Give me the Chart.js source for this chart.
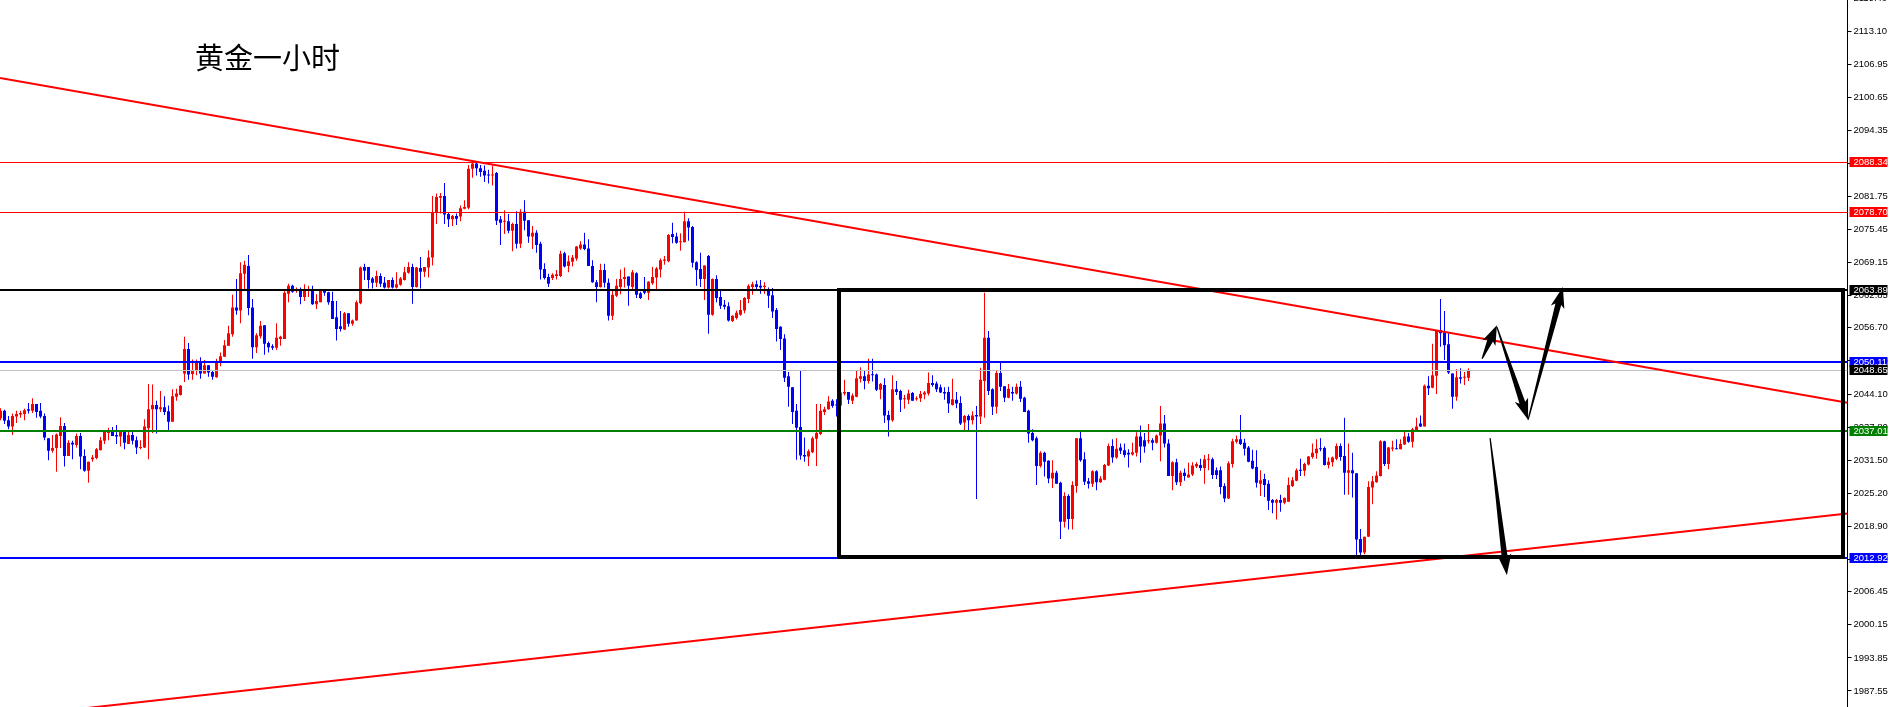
<!DOCTYPE html>
<html>
<head>
<meta charset="utf-8">
<script src="https://cdn.jsdelivr.net/npm/chart.js@4.4.1/dist/chart.umd.min.js"></script>
<style>
  html, body { margin: 0; padding: 0; background: #fff; overflow: hidden; }
  canvas { display: block; }
</style>
</head>
<body>
<canvas id="goldChart" width="1891" height="707"></canvas>
<script>
// 黄金 H1 candles (oldest -> newest)
const opens = [
  2039.5, 2040.9, 2039.1, 2037.9, 2039.8, 2040.2, 2040.3, 2041.2, 2040.9, 2042.2,
  2040.9, 2039.9, 2035.7, 2033.3, 2033.8, 2036.1, 2038.0, 2032.3, 2034.8, 2034.4,
  2036.1, 2032.3, 2029.5, 2031.7, 2031.9, 2033.4, 2035.2, 2036.7, 2037.0, 2036.3,
  2036.0, 2036.9, 2034.6, 2036.3, 2035.3, 2033.8, 2033.9, 2037.6, 2041.2, 2042.0,
  2041.2, 2041.6, 2040.8, 2038.8, 2043.6, 2043.9, 2048.0, 2052.7, 2047.9, 2048.5,
  2050.3, 2048.0, 2049.6, 2048.3, 2047.3, 2050.1, 2051.2, 2053.3, 2055.5, 2060.6,
  2060.0, 2067.0, 2068.5, 2060.6, 2053.0, 2055.1, 2057.2, 2053.8, 2053.2, 2052.9,
  2054.6, 2054.6, 2063.2, 2064.7, 2063.7, 2064.0, 2062.6, 2063.7, 2064.0, 2061.2,
  2061.6, 2063.8, 2063.5, 2061.8, 2058.7, 2057.0, 2056.4, 2059.5, 2057.5, 2058.1,
  2061.4, 2068.3, 2068.3, 2066.1, 2065.3, 2066.6, 2065.3, 2064.4, 2065.8, 2064.4,
  2064.9, 2065.8, 2067.2, 2068.3, 2064.5, 2068.1, 2067.4, 2068.2, 2070.1, 2078.6,
  2081.5, 2081.8, 2078.4, 2077.4, 2078.0, 2077.9, 2079.4, 2079.6, 2087.0, 2088.0,
  2087.1, 2086.6, 2085.9, 2085.7, 2086.2, 2077.4, 2076.9, 2077.0, 2075.2, 2076.5,
  2072.7, 2078.8, 2077.2, 2074.1, 2074.8, 2072.7, 2067.9, 2066.4, 2066.2, 2066.6,
  2066.6, 2070.9, 2068.5, 2069.3, 2069.9, 2071.8, 2072.6, 2071.8, 2068.5, 2065.4,
  2064.5, 2067.7, 2065.3, 2059.0, 2062.8, 2064.5, 2066.0, 2066.5, 2064.5, 2067.1,
  2063.3, 2064.0, 2063.4, 2065.2, 2066.3, 2067.8, 2069.5, 2069.4, 2074.6, 2074.1,
  2073.0, 2073.0, 2077.0, 2075.9, 2069.2, 2067.9, 2066.0, 2070.4, 2059.2, 2066.0,
  2062.6, 2061.1, 2060.8, 2058.0, 2058.6, 2059.2, 2060.0, 2062.2, 2064.5, 2065.0,
  2064.7, 2064.5, 2064.0, 2062.9, 2060.1, 2056.9, 2054.7, 2047.5, 2045.4, 2040.9,
  2037.8, 2032.5, 2032.2, 2033.0, 2035.6, 2036.5, 2040.7, 2041.2, 2042.8, 2042.0,
  2041.9, 2044.2, 2044.5, 2042.8, 2043.6, 2047.0, 2047.5, 2046.6, 2047.8, 2047.8,
  2044.9, 2045.8, 2040.1, 2039.1, 2045.0, 2044.7, 2043.1, 2043.0, 2044.3, 2043.1,
  2043.3, 2044.0, 2044.2, 2046.2, 2046.1, 2045.4, 2044.5, 2044.5, 2042.0, 2043.0,
  2042.4, 2038.7, 2039.9, 2039.1, 2040.1, 2039.8, 2046.6, 2054.8, 2045.0, 2041.7,
  2048.1, 2045.6, 2043.4, 2044.5, 2044.2, 2045.5, 2043.4, 2040.9, 2036.7, 2035.7,
  2030.4, 2032.9, 2031.4, 2028.0, 2029.1, 2027.2, 2019.8, 2024.7, 2020.3, 2026.6,
  2035.7, 2031.7, 2027.5, 2027.0, 2029.4, 2027.3, 2027.8, 2030.5, 2034.2, 2032.0,
  2033.9, 2033.4, 2032.9, 2032.6, 2032.9, 2036.0, 2035.3, 2035.1, 2035.3, 2034.8,
  2036.2, 2038.5, 2034.7, 2028.5, 2031.1, 2027.3, 2029.1, 2028.2, 2028.8, 2030.3,
  2030.6, 2030.0, 2031.6, 2031.7, 2029.6, 2029.6, 2026.6, 2024.2, 2030.8, 2035.0,
  2035.5, 2034.8, 2033.9, 2031.4, 2030.2, 2027.0, 2027.9, 2027.0, 2023.9, 2023.4,
  2023.9, 2023.4, 2023.6, 2026.6, 2027.6, 2029.6, 2029.5, 2030.7, 2032.1, 2032.8,
  2033.7, 2033.8, 2030.6, 2031.1, 2031.8, 2034.2, 2032.3, 2029.1, 2029.6, 2029.0,
  2016.5, 2013.9, 2016.9, 2026.3, 2027.3, 2028.5, 2035.1, 2030.8, 2033.7, 2033.7,
  2033.6, 2034.5, 2036.0, 2035.0, 2037.2, 2038.5, 2037.9, 2045.7, 2045.3, 2047.6,
  2056.3, 2055.8, 2053.6, 2048.0, 2043.6, 2047.3, 2047.2, 2047.2
];
const highs = [
  2041.4, 2041.1, 2039.9, 2040.4, 2040.9, 2040.9, 2041.3, 2042.4, 2043.3, 2042.2,
  2042.4, 2040.4, 2035.7, 2036.3, 2036.6, 2039.7, 2038.6, 2035.3, 2035.2, 2036.6,
  2036.7, 2033.6, 2031.2, 2032.5, 2033.8, 2035.9, 2037.2, 2037.7, 2037.8, 2038.2,
  2037.1, 2037.2, 2036.9, 2037.1, 2036.0, 2035.3, 2039.3, 2046.0, 2045.9, 2042.8,
  2044.7, 2043.7, 2041.9, 2045.0, 2045.1, 2045.8, 2055.0, 2053.8, 2050.7, 2050.7,
  2051.1, 2050.6, 2049.6, 2048.7, 2050.8, 2052.0, 2054.4, 2057.1, 2063.0, 2066.0,
  2069.2, 2069.5, 2070.6, 2062.2, 2055.7, 2058.0, 2057.2, 2054.1, 2053.6, 2057.6,
  2055.2, 2063.8, 2065.1, 2064.9, 2064.4, 2064.4, 2065.0, 2064.7, 2064.7, 2063.1,
  2063.9, 2063.9, 2063.6, 2063.6, 2061.8, 2059.9, 2059.7, 2059.5, 2058.3, 2061.9,
  2068.4, 2068.9, 2068.3, 2066.4, 2067.6, 2067.1, 2066.4, 2065.8, 2066.3, 2067.3,
  2066.4, 2068.3, 2069.2, 2068.9, 2068.3, 2070.2, 2068.3, 2071.5, 2081.8, 2082.3,
  2082.4, 2084.3, 2078.7, 2078.2, 2078.5, 2080.0, 2081.0, 2087.7, 2088.2, 2088.5,
  2087.7, 2087.6, 2086.8, 2087.6, 2086.4, 2078.0, 2079.1, 2078.4, 2076.7, 2078.9,
  2079.3, 2081.0, 2077.2, 2076.1, 2075.3, 2073.1, 2069.0, 2067.0, 2067.1, 2067.7,
  2071.4, 2071.2, 2070.5, 2070.6, 2072.3, 2073.2, 2074.8, 2073.6, 2069.6, 2065.8,
  2068.9, 2068.9, 2066.1, 2063.9, 2066.0, 2067.8, 2068.2, 2066.5, 2067.7, 2067.3,
  2063.6, 2066.4, 2065.6, 2068.3, 2068.3, 2069.9, 2070.4, 2074.6, 2076.7, 2074.8,
  2074.7, 2078.8, 2077.6, 2076.1, 2069.4, 2071.0, 2068.6, 2070.6, 2066.1, 2066.7,
  2063.9, 2062.0, 2061.6, 2059.1, 2060.0, 2062.0, 2062.6, 2065.0, 2065.5, 2065.7,
  2065.8, 2065.4, 2064.4, 2064.3, 2060.5, 2057.0, 2055.5, 2048.3, 2045.4, 2042.2,
  2048.7, 2035.8, 2033.6, 2036.0, 2042.2, 2042.2, 2041.7, 2043.7, 2043.1, 2043.1,
  2044.9, 2046.8, 2044.5, 2044.2, 2048.5, 2049.2, 2048.5, 2050.8, 2050.8, 2048.0,
  2046.2, 2047.1, 2040.9, 2047.7, 2046.6, 2044.9, 2043.9, 2044.9, 2044.5, 2043.7,
  2044.7, 2044.7, 2048.2, 2047.7, 2046.5, 2045.9, 2045.4, 2045.5, 2047.0, 2044.5,
  2043.7, 2040.1, 2040.2, 2040.8, 2041.8, 2049.1, 2063.4, 2056.1, 2045.2, 2048.5,
  2050.1, 2045.6, 2046.0, 2045.5, 2046.1, 2046.6, 2043.6, 2041.1, 2037.4, 2036.0,
  2033.2, 2033.1, 2031.5, 2031.5, 2029.5, 2027.4, 2025.4, 2025.0, 2027.5, 2035.7,
  2036.9, 2033.0, 2028.1, 2029.6, 2029.6, 2028.5, 2030.8, 2034.7, 2035.5, 2035.7,
  2034.7, 2034.7, 2033.6, 2034.8, 2036.8, 2038.1, 2036.7, 2038.4, 2035.7, 2036.4,
  2041.8, 2040.1, 2035.5, 2031.3, 2031.8, 2029.5, 2029.9, 2031.0, 2031.1, 2031.1,
  2031.8, 2032.5, 2032.7, 2032.0, 2030.1, 2030.3, 2027.1, 2031.3, 2035.6, 2036.2,
  2040.1, 2035.6, 2034.2, 2033.5, 2033.4, 2029.6, 2028.9, 2027.7, 2024.1, 2024.1,
  2024.9, 2024.4, 2028.2, 2028.3, 2029.9, 2031.8, 2031.0, 2032.3, 2034.7, 2035.5,
  2035.7, 2034.1, 2032.0, 2032.2, 2034.7, 2034.7, 2039.6, 2034.7, 2032.9, 2029.0,
  2018.4, 2016.9, 2027.5, 2028.5, 2029.4, 2035.3, 2035.2, 2034.0, 2035.2, 2035.5,
  2035.5, 2036.9, 2036.7, 2037.7, 2039.6, 2040.0, 2045.9, 2047.5, 2053.7, 2056.2,
  2062.2, 2059.9, 2055.7, 2048.0, 2048.8, 2049.0, 2048.3, 2049.0
];
const lows = [
  2039.1, 2038.4, 2037.4, 2036.3, 2038.6, 2039.6, 2039.1, 2040.4, 2040.5, 2039.6,
  2039.5, 2035.3, 2031.5, 2032.9, 2029.3, 2033.8, 2030.3, 2032.3, 2031.7, 2033.9,
  2029.8, 2029.3, 2027.2, 2031.2, 2031.7, 2033.4, 2034.6, 2035.3, 2036.1, 2034.6,
  2034.1, 2033.6, 2034.6, 2034.5, 2032.7, 2033.6, 2033.8, 2031.7, 2036.7, 2036.6,
  2040.7, 2040.1, 2037.2, 2038.8, 2042.8, 2043.8, 2046.4, 2046.8, 2046.8, 2047.7,
  2047.0, 2048.0, 2047.4, 2046.8, 2047.2, 2049.4, 2051.2, 2053.3, 2055.0, 2059.2,
  2057.6, 2064.0, 2059.1, 2050.8, 2051.9, 2054.7, 2051.6, 2052.0, 2052.5, 2052.5,
  2053.3, 2054.6, 2061.6, 2063.4, 2063.4, 2061.2, 2061.8, 2062.6, 2061.1, 2060.3,
  2061.6, 2062.8, 2061.1, 2058.4, 2054.3, 2056.0, 2056.3, 2056.9, 2057.1, 2058.1,
  2061.2, 2065.8, 2064.2, 2064.2, 2064.5, 2064.5, 2064.2, 2064.2, 2064.2, 2064.2,
  2064.7, 2065.7, 2067.0, 2061.3, 2064.4, 2064.2, 2066.4, 2066.3, 2068.6, 2076.5,
  2078.5, 2076.5, 2075.9, 2076.1, 2076.3, 2077.0, 2079.3, 2079.3, 2085.3, 2085.7,
  2085.5, 2084.5, 2084.2, 2083.8, 2076.3, 2072.5, 2074.6, 2074.7, 2071.3, 2071.8,
  2071.9, 2075.3, 2072.9, 2071.7, 2071.0, 2065.9, 2065.9, 2064.5, 2065.8, 2065.9,
  2066.4, 2068.2, 2067.3, 2068.4, 2069.5, 2071.6, 2071.5, 2068.5, 2065.3, 2061.6,
  2064.4, 2064.4, 2058.1, 2058.2, 2062.6, 2063.1, 2064.4, 2060.9, 2064.0, 2062.4,
  2062.2, 2063.1, 2062.0, 2064.9, 2064.0, 2066.3, 2068.7, 2069.2, 2072.8, 2072.7,
  2071.4, 2073.0, 2073.3, 2068.2, 2064.7, 2064.5, 2062.0, 2055.6, 2059.0, 2061.6,
  2060.3, 2060.2, 2057.9, 2057.8, 2058.3, 2059.0, 2059.5, 2061.4, 2063.0, 2064.0,
  2063.2, 2063.2, 2060.5, 2058.6, 2054.1, 2052.5, 2046.4, 2041.7, 2038.4, 2031.6,
  2031.6, 2031.2, 2030.4, 2032.8, 2030.4, 2036.3, 2040.1, 2041.1, 2041.5, 2039.8,
  2041.8, 2043.8, 2042.2, 2042.2, 2043.5, 2046.3, 2045.0, 2046.1, 2046.5, 2044.7,
  2043.1, 2038.6, 2036.0, 2038.8, 2043.9, 2040.7, 2041.3, 2042.2, 2042.8, 2042.8,
  2042.6, 2043.1, 2043.8, 2045.5, 2044.5, 2044.3, 2043.0, 2040.5, 2041.9, 2041.4,
  2038.2, 2037.2, 2037.2, 2038.3, 2024.1, 2038.4, 2039.6, 2043.9, 2040.1, 2040.4,
  2044.7, 2042.6, 2043.3, 2042.8, 2044.0, 2042.6, 2040.7, 2034.8, 2035.1, 2026.8,
  2030.1, 2028.4, 2027.1, 2026.2, 2027.0, 2016.5, 2018.7, 2018.3, 2018.3, 2025.3,
  2031.2, 2026.8, 2026.1, 2026.4, 2025.8, 2027.2, 2027.7, 2030.4, 2031.0, 2031.8,
  2032.7, 2032.0, 2030.1, 2032.4, 2032.2, 2031.0, 2032.9, 2034.7, 2033.4, 2034.7,
  2031.3, 2033.9, 2028.5, 2025.8, 2026.8, 2026.6, 2027.6, 2028.2, 2028.5, 2030.0,
  2029.5, 2027.0, 2029.6, 2027.9, 2027.9, 2025.0, 2023.5, 2024.1, 2030.1, 2034.7,
  2034.4, 2032.4, 2031.1, 2029.8, 2026.3, 2024.7, 2024.5, 2022.0, 2021.4, 2020.2,
  2021.7, 2023.1, 2023.6, 2026.4, 2027.5, 2028.5, 2028.5, 2030.5, 2031.8, 2031.8,
  2033.2, 2030.5, 2029.9, 2030.3, 2031.5, 2031.4, 2024.9, 2024.9, 2024.4, 2013.2,
  2013.4, 2013.6, 2016.9, 2023.1, 2027.2, 2028.4, 2030.4, 2029.8, 2033.2, 2033.6,
  2033.6, 2034.4, 2034.8, 2033.9, 2036.9, 2037.8, 2037.9, 2043.9, 2045.2, 2044.1,
  2053.1, 2050.6, 2047.9, 2041.3, 2042.8, 2046.1, 2045.8, 2046.6
];
const closes = [
  2040.9, 2039.0, 2037.9, 2039.9, 2040.3, 2040.5, 2041.0, 2040.9, 2042.2, 2040.7,
  2039.8, 2035.8, 2033.3, 2033.8, 2036.4, 2038.0, 2032.3, 2034.8, 2034.5, 2036.1,
  2032.2, 2029.5, 2031.2, 2032.0, 2033.6, 2035.3, 2036.9, 2037.0, 2036.1, 2036.0,
  2036.9, 2034.8, 2036.3, 2035.2, 2033.9, 2034.0, 2037.9, 2041.2, 2042.0, 2041.2,
  2041.6, 2040.7, 2038.8, 2043.7, 2044.2, 2045.7, 2052.7, 2047.8, 2048.7, 2050.1,
  2048.0, 2049.6, 2048.2, 2047.4, 2050.1, 2051.3, 2053.4, 2055.7, 2060.6, 2060.0,
  2067.1, 2068.7, 2060.5, 2053.0, 2055.3, 2057.1, 2053.7, 2053.0, 2052.9, 2054.8,
  2055.0, 2063.4, 2064.7, 2063.6, 2063.9, 2062.6, 2064.0, 2063.9, 2061.2, 2061.8,
  2063.8, 2063.4, 2061.6, 2058.4, 2056.5, 2056.5, 2059.5, 2057.5, 2058.1, 2061.6,
  2068.2, 2067.6, 2065.8, 2065.3, 2066.6, 2065.1, 2064.4, 2065.8, 2064.4, 2065.0,
  2066.1, 2067.3, 2068.3, 2064.5, 2068.2, 2067.4, 2068.3, 2070.1, 2078.6, 2081.6,
  2081.8, 2078.3, 2077.4, 2078.0, 2077.5, 2079.5, 2079.7, 2087.0, 2088.0, 2087.1,
  2086.4, 2085.7, 2085.7, 2085.9, 2077.1, 2076.7, 2077.0, 2075.2, 2076.5, 2072.7,
  2078.8, 2077.1, 2074.1, 2074.8, 2072.5, 2067.8, 2066.2, 2065.1, 2066.8, 2066.9,
  2070.8, 2068.4, 2069.4, 2070.1, 2072.2, 2072.6, 2071.7, 2068.5, 2065.4, 2064.5,
  2067.7, 2065.3, 2059.0, 2063.0, 2064.7, 2066.0, 2066.4, 2064.7, 2067.3, 2063.0,
  2062.4, 2063.4, 2065.5, 2066.4, 2068.0, 2069.6, 2069.7, 2074.4, 2074.0, 2072.9,
  2073.2, 2077.0, 2075.8, 2069.1, 2067.7, 2066.0, 2068.6, 2059.2, 2066.0, 2062.4,
  2060.9, 2060.7, 2058.1, 2059.0, 2059.6, 2060.1, 2062.4, 2064.7, 2065.0, 2064.5,
  2064.4, 2064.7, 2062.8, 2059.8, 2056.5, 2054.6, 2047.2, 2045.5, 2040.7, 2037.7,
  2032.4, 2032.2, 2033.2, 2035.7, 2036.7, 2040.9, 2041.2, 2042.7, 2041.8, 2041.9,
  2044.4, 2044.5, 2043.0, 2043.8, 2047.1, 2047.5, 2046.6, 2047.8, 2047.7, 2044.9,
  2046.0, 2040.0, 2039.1, 2045.0, 2044.5, 2043.0, 2043.2, 2044.2, 2042.8, 2043.3,
  2044.1, 2044.4, 2046.2, 2045.8, 2045.0, 2044.4, 2044.2, 2042.3, 2043.1, 2042.3,
  2038.5, 2039.9, 2039.1, 2040.0, 2039.8, 2046.8, 2054.8, 2044.7, 2041.7, 2048.1,
  2045.5, 2043.4, 2045.1, 2044.2, 2045.5, 2043.2, 2040.7, 2036.6, 2035.3, 2030.4,
  2032.9, 2031.2, 2028.0, 2029.1, 2027.0, 2019.8, 2024.7, 2020.3, 2026.8, 2035.7,
  2031.5, 2027.4, 2027.0, 2029.4, 2027.3, 2028.0, 2030.6, 2034.2, 2032.0, 2033.7,
  2033.3, 2032.5, 2032.6, 2033.0, 2036.0, 2034.1, 2034.1, 2035.3, 2034.8, 2036.2,
  2038.5, 2034.7, 2028.5, 2031.1, 2027.3, 2029.1, 2028.5, 2028.8, 2030.5, 2030.8,
  2030.0, 2031.7, 2031.7, 2028.7, 2028.7, 2026.4, 2024.2, 2030.9, 2035.1, 2035.5,
  2034.6, 2033.7, 2031.2, 2029.9, 2027.2, 2027.7, 2026.8, 2023.8, 2023.4, 2023.9,
  2023.4, 2024.3, 2026.8, 2027.7, 2029.6, 2029.5, 2030.8, 2032.2, 2032.9, 2033.7,
  2033.6, 2030.6, 2031.2, 2032.0, 2034.2, 2032.1, 2029.1, 2029.6, 2029.0, 2016.4,
  2013.9, 2016.9, 2026.4, 2027.5, 2028.6, 2035.1, 2030.8, 2033.9, 2033.9, 2033.6,
  2034.6, 2036.0, 2035.0, 2037.4, 2037.9, 2037.9, 2045.7, 2045.2, 2047.7, 2056.2,
  2055.7, 2053.4, 2048.2, 2043.6, 2047.3, 2047.0, 2047.4, 2048.65
];

// price scale labels as printed on the right axis
const yTicks = [2119.40, 2113.10, 2106.95, 2100.65, 2094.35, 2088.05, 2081.75, 2075.45,
  2069.15, 2062.85, 2056.70, 2050.40, 2044.10, 2037.80, 2031.50, 2025.20, 2018.90,
  2012.60, 2006.45, 2000.15, 1993.85, 1987.55];

// horizontal levels drawn on the chart
const levelValues = [2088.34, 2078.70, 2063.89, 2050.11, 2048.65, 2037.01, 2012.92];

// drawn objects, in [bar index, price] pairs
const trendLines = [[-0.125, 2104.28, 454.9, 2043.35], [23.875, 1984.5, 454.875, 2020.77]];
const rangeBox = [209.6, 2063.89, 460.6, 2013.1];
const arrowPaths = [
  [370.4, 2050.8, 374.1, 2057.2],
  [374.1, 2056.9, 381.9, 2039.2],
  [381.9, 2039.2, 390.6, 2064.5],
  [372.4, 2035.7, 376.6, 2009.6]
];

const RED = "#ff0000";
const BLUE = "#0000ff";
const levelStyles = [
  { color: RED, width: 1, tag: RED },
  { color: RED, width: 1, tag: RED },
  { color: "#000000", width: 2, tag: "#000000" },
  { color: BLUE, width: 2, tag: BLUE },
  { color: "#c0c0c0", width: 1, tag: "#000000" },
  { color: "#008000", width: 2, tag: "#008000" },
  { color: BLUE, width: 2, tag: BLUE }
];
const axisFont = '9.5px "Liberation Sans", Arial, sans-serif';

const candleColor = (ctx) => closes[ctx.dataIndex] >= opens[ctx.dataIndex] ? RED : BLUE;

const wicks = opens.map((o, i) => ({ x: i, y: [lows[i], highs[i]] }));
const bodies = opens.map((o, i) => ({ x: i, y: [Math.min(o, closes[i]), Math.max(o, closes[i])] }));

function drawArrow(ctx, x0, y0, x1, y1) {
  const dx = x1 - x0, dy = y1 - y0;
  const len = Math.hypot(dx, dy);
  const ux = dx / len, uy = dy / len;
  const nx = -uy, ny = ux;
  const hl = Math.min(18, len * 0.45), hw = 7, sw = 3;
  const bx = x1 - ux * hl, by = y1 - uy * hl;
  ctx.beginPath();
  ctx.moveTo(x0 + nx * 0.6, y0 + ny * 0.6);
  ctx.lineTo(bx + nx * sw, by + ny * sw);
  ctx.lineTo(bx - ux * 3 + nx * hw, by - uy * 3 + ny * hw);
  ctx.lineTo(x1, y1);
  ctx.lineTo(bx - ux * 3 - nx * hw, by - uy * 3 - ny * hw);
  ctx.lineTo(bx - nx * sw, by - ny * sw);
  ctx.lineTo(x0 - nx * 0.6, y0 - ny * 0.6);
  ctx.closePath();
  ctx.fill();
}

const overlay = {
  id: "overlay",
  afterDatasetsDraw(chart) {
    const { ctx, chartArea: a, scales: { x, y } } = chart;
    ctx.save();
    ctx.beginPath();
    ctx.rect(a.left, a.top, a.right - a.left, a.bottom - a.top);
    ctx.clip();

    // levels
    levelValues.forEach((v, i) => {
      const s = levelStyles[i];
      let py = Math.round(y.getPixelForValue(v));
      if (s.width % 2 === 1) py += 0.5;
      ctx.strokeStyle = s.color;
      ctx.lineWidth = s.width;
      ctx.beginPath();
      ctx.moveTo(a.left, py);
      ctx.lineTo(a.right, py);
      ctx.stroke();
    });

    // trend lines, extended across the chart
    ctx.strokeStyle = RED;
    ctx.lineWidth = 2;
    trendLines.forEach(([i0, p0, i1, p1]) => {
      const slope = (p1 - p0) / (i1 - i0);
      const xa = x.min, xb = x.max;
      ctx.beginPath();
      ctx.moveTo(x.getPixelForValue(xa), y.getPixelForValue(p0 + slope * (xa - i0)));
      ctx.lineTo(x.getPixelForValue(xb), y.getPixelForValue(p0 + slope * (xb - i0)));
      ctx.stroke();
    });

    // range box
    const [bi0, bp0, bi1, bp1] = rangeBox;
    const bx0 = Math.round(x.getPixelForValue(bi0)), bx1 = Math.round(x.getPixelForValue(bi1));
    const by0 = Math.round(y.getPixelForValue(bp0)), by1 = Math.round(y.getPixelForValue(bp1));
    ctx.strokeStyle = "#000";
    ctx.lineWidth = 4;
    ctx.strokeRect(bx0, by0, bx1 - bx0, by1 - by0);

    // arrows
    ctx.fillStyle = "#000";
    arrowPaths.forEach(([i0, p0, i1, p1]) => {
      drawArrow(ctx, x.getPixelForValue(i0), y.getPixelForValue(p0),
        x.getPixelForValue(i1), y.getPixelForValue(p1));
    });

    // title
    ctx.fillStyle = "#000";
    ctx.font = '29px "Noto Sans CJK SC", sans-serif';
    ctx.textBaseline = "alphabetic";
    ctx.textAlign = "left";
    ctx.fillText("黄金一小时", 195, 69);
    ctx.restore();
  },
  afterDraw(chart) {
    const { ctx, scales: { y } } = chart;
    ctx.save();
    ctx.font = axisFont;
    ctx.textBaseline = "middle";
    ctx.textAlign = "left";
    levelValues.forEach((v, i) => {
      const py = Math.round(y.getPixelForValue(v));
      ctx.fillStyle = levelStyles[i].tag;
      ctx.fillRect(y.left + 2, py - 5, 38, 10);
      ctx.fillStyle = "#fff";
      ctx.fillText(v.toFixed(2), y.left + 6, py + 0.5);
    });
    ctx.restore();
  }
};

new Chart(document.getElementById("goldChart"), {
  type: "bar",
  data: {
    datasets: [
      {
        data: wicks,
        backgroundColor: candleColor,
        barThickness: 1,
        grouped: false,
        minBarLength: 1,
        inflateAmount: 0
      },
      {
        data: bodies,
        backgroundColor: candleColor,
        barThickness: 3,
        grouped: false,
        minBarLength: 1,
        inflateAmount: 0
      }
    ]
  },
  options: {
    responsive: false,
    animation: false,
    events: [],
    layout: { padding: 0 },
    plugins: { legend: { display: false }, tooltip: { enabled: false } },
    scales: {
      x: { type: "linear", min: -0.125, max: 461.75, display: false, offset: false },
      y: {
        position: "right",
        min: 1984.5,
        max: 2119.14,
        afterBuildTicks: (s) => { s.ticks = yTicks.map((v) => ({ value: v })); },
        afterFit: (s) => { s.width = 43.5; s.paddingTop = 0; s.paddingBottom = 0; },
        ticks: {
          autoSkip: false,
          padding: 2,
          color: "#000",
          font: { family: '"Liberation Sans", Arial, sans-serif', size: 9.5 },
          callback: (v) => Number(v).toFixed(2)
        },
        grid: { drawOnChartArea: false, tickLength: 4, color: "#000" },
        border: { color: "#000", width: 1 }
      }
    }
  },
  plugins: [overlay]
});
</script>
</body>
</html>
